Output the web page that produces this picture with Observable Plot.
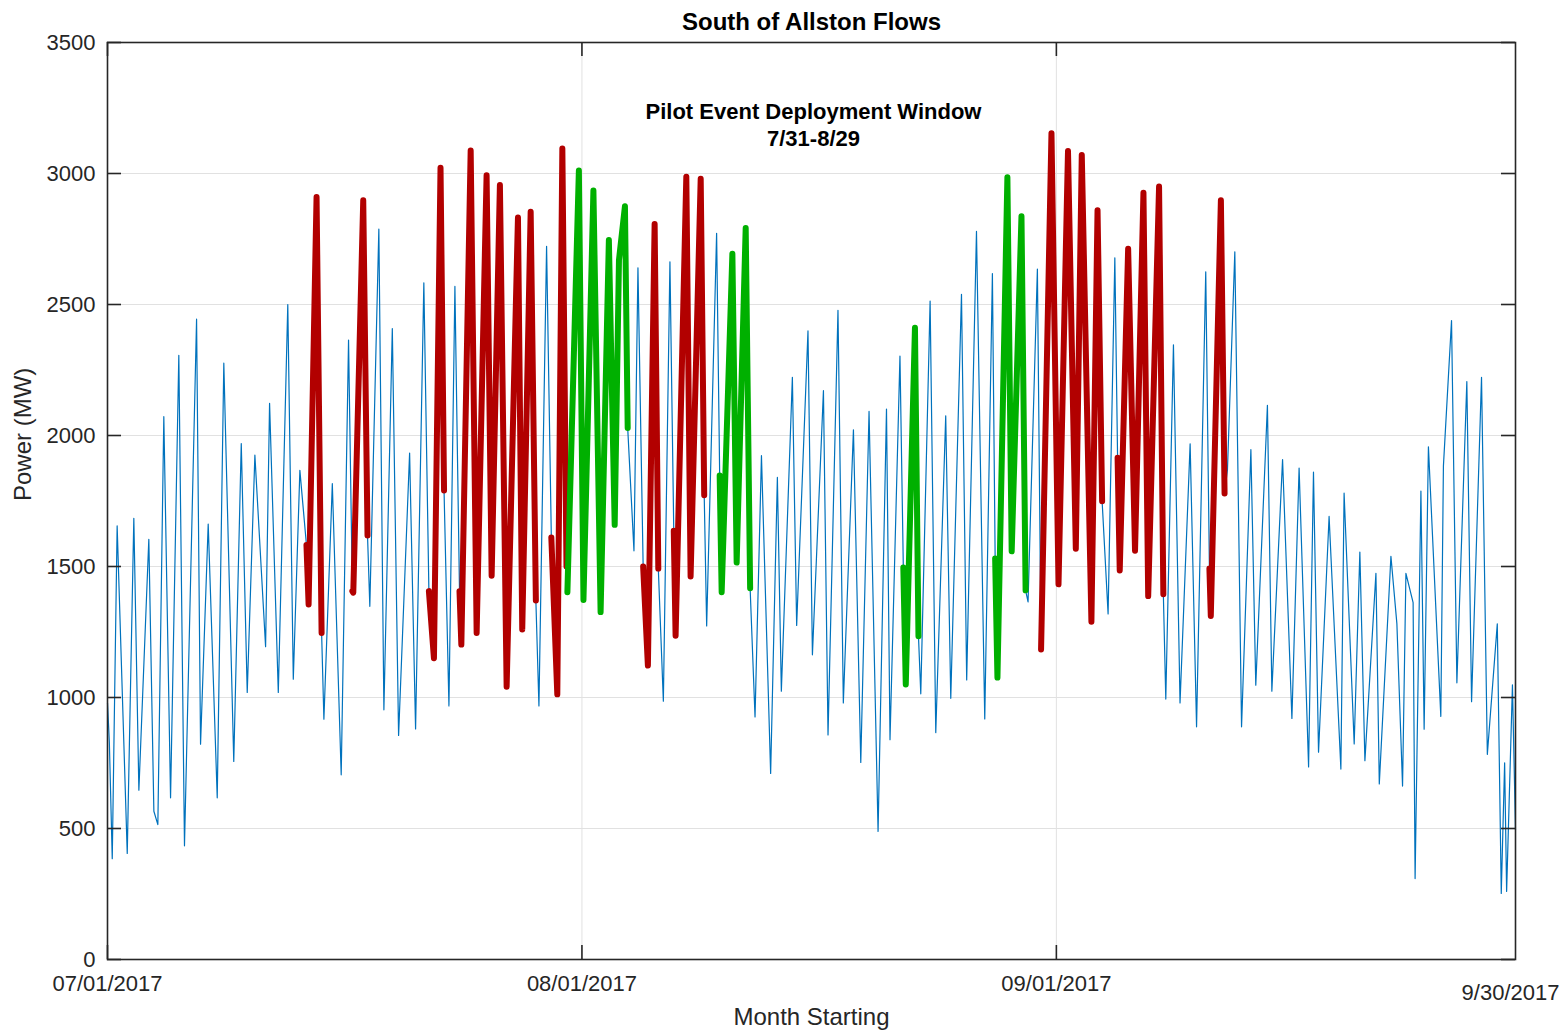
<!DOCTYPE html>
<html>
<head>
<meta charset="utf-8">
<script src="https://cdn.jsdelivr.net/npm/d3@7"></script>
<script src="https://cdn.jsdelivr.net/npm/@observablehq/plot@0.6"></script>
<style>
  body { margin: 0; background: #ffffff; }
  #chart svg { display: block; }
</style>
</head>
<body>
<div id="chart"></div>
<script>
// ---- Data (turning points of the hourly flow) ----
// time in days since 07/01/2017 00:00
const dayOffset = [
  0.00, 0.12, 0.31, 0.63,
  1.29, 1.72,
  2.05, 2.70,
  3.03, 3.29, 3.68,
  4.12, 4.66,
  5.03, 5.82,
  6.08, 6.58,
  7.17, 7.60,
  8.25, 8.74,
  9.13, 9.63,
  10.33, 10.59,
  11.16, 11.78,
  12.14, 12.57,
  13.00, 13.14, 13.66, 13.99,
  14.14, 14.69,
  15.27, 15.75,
  16.00, 16.06, 16.71, 16.99,
  17.14, 17.73,
  18.06, 18.61,
  19.02, 19.74,
  20.13, 20.67,
  21.00, 21.33, 21.76, 21.99,
  22.31, 22.70,
  23.00, 23.12, 23.73, 24.12, 24.77, 25.10, 25.64, 26.08, 26.82, 27.10, 27.65, 27.99,
  28.19, 28.69,
  29.00, 29.39, 29.72, 29.99,
  30.05, 30.80, 31.10, 31.75, 32.22, 32.76, 33.14, 33.42, 33.81, 33.99,
  34.40, 34.66,
  35.00, 35.31, 35.75, 35.99,
  36.32, 36.75,
  37.00, 37.12, 37.82, 38.10, 38.76, 38.99,
  39.15, 39.80,
  40.00, 40.13, 40.83, 41.11, 41.70, 41.99,
  42.31, 42.73, 43.33, 43.77, 44.03, 44.75, 45.03, 45.77, 46.06, 46.78,
  47.08, 47.73, 48.08, 48.74, 49.22, 49.76, 50.35, 50.90, 51.13, 51.78,
  52.00, 52.16, 52.76, 52.99,
  53.14, 53.75, 54.12, 54.77, 55.10, 55.80, 56.14, 56.78, 57.32, 57.82,
  58.00, 58.15, 58.80, 59.08, 59.72, 59.99,
  60.15, 60.76,
  61.00, 61.68, 62.14, 62.76, 63.27, 63.66, 64.29, 64.69, 64.99,
  65.38, 65.82,
  66.00, 66.14, 66.69, 67.14, 67.69, 68.00, 68.71, 68.99,
  69.15, 69.65, 70.08, 70.74, 71.16, 71.76,
  72.00, 72.09, 72.75, 72.99,
  73.18, 73.66, 74.10, 74.71, 75.03, 75.79, 76.08, 76.78, 77.39, 77.86,
  78.48, 78.80, 79.13, 79.82, 80.59, 80.80, 81.46, 81.83, 82.16, 82.88,
  83.10, 83.86, 84.25, 84.62, 84.84, 85.31, 85.44, 85.82, 86.03, 86.31,
  87.12, 87.29, 87.82, 88.17, 88.82, 89.13, 89.78, 90.16, 90.81, 91.07,
  91.29, 91.42, 91.80, 92.00
];
const powerMW = [
  980, 830, 385, 1655,
  405, 1684,
  646, 1604,
  566, 515, 2072,
  617, 2306,
  434, 2444,
  822, 1662,
  617, 2276,
  756, 1969,
  1019, 1925,
  1194, 2123,
  1019, 2500,
  1070, 1867,
  1582, 1355, 2910, 1246,
  917, 1816,
  705, 2364,
  1406, 1400, 2898, 1618,
  1348, 2788,
  953, 2408,
  855, 1933,
  880, 2583,
  1406, 1150, 3022, 1790,
  968, 2569,
  1406, 1202, 3088, 1246, 2993, 1465, 2956, 1041, 2832, 1260, 2854, 1370,
  968, 2722,
  1611, 1012, 3095, 1500,
  1402, 3011, 1372, 2935, 1326, 2746, 1659, 2670, 2875, 2029,
  1560, 2640,
  1500, 1122, 2807, 1492,
  986, 2663,
  1636, 1236, 2988, 1462, 2980, 1772,
  1273, 2772,
  1847, 1402, 2694, 1515, 2792, 1417,
  926, 1923, 710, 1840, 1024, 2222, 1275, 2399, 1163, 2171,
  857, 2478, 979, 2022, 752, 2092, 489, 2101, 839, 2303,
  1496, 1050, 2411, 1234,
  1014, 2513, 866, 2075, 997, 2539, 1067, 2779, 918, 2618,
  1531, 1076, 2986, 1558, 2837, 1409,
  1365, 2635,
  1183, 3154, 1432, 3086, 1568, 3071, 1289, 2860, 1749,
  1319, 2678,
  1915, 1485, 2713, 1560, 2927, 1387, 2950, 1394,
  994, 2346, 979, 1968, 888, 2625,
  1492, 1311, 2898, 1779,
  1870, 2701, 888, 1946, 1047, 2115, 1024, 1908, 920, 1876,
  735, 1860, 791, 1691, 727, 1780, 823, 1555, 759, 1474,
  670, 1539, 1281, 662, 1474, 1362, 309, 1788, 879, 1957,
  928, 1884, 2439, 1056, 2206, 984, 2222, 783, 1281, 252,
  751, 260, 1048, 494
];
// highlighted days
const redDays = [
  "2017-07-14", "2017-07-17", "2017-07-22", "2017-07-24", "2017-07-25", "2017-07-26",
  "2017-07-27", "2017-07-28", "2017-07-30", "2017-08-05", "2017-08-07", "2017-08-08",
  "2017-08-31", "2017-09-01", "2017-09-02", "2017-09-03", "2017-09-05", "2017-09-06",
  "2017-09-07", "2017-09-11"
];
const greenDays = [
  "2017-07-31", "2017-08-01", "2017-08-02", "2017-08-03", "2017-08-10", "2017-08-11",
  "2017-08-22", "2017-08-28", "2017-08-29"
];
const xTickDates = ["2017-07-01", "2017-08-01", "2017-09-01"];
const xTickLabels = ["07/01/2017", "08/01/2017", "09/01/2017"];
const xDomain = ["2017-07-01", "2017-10-01"];
const endLabel = "9/30/2017";
const yTicks = [0, 500, 1000, 1500, 2000, 2500, 3000, 3500];
const titleText = "South of Allston Flows";
const noteLines = ["Pilot Event Deployment Window", "7/31-8/29"];
const xLabelText = "Month Starting";
const yLabelText = "Power (MW)";

// ---- Build table ----
const t0 = Date.UTC(2017, 6, 1);
const fmtDay = d3.utcFormat("%Y-%m-%d");
const redSet = new Set(redDays), greenSet = new Set(greenDays);
const rows = [];
let seg = -1, prevCat = "normal", prevDay = -10;
dayOffset.forEach((d, i) => {
  const di = Math.floor(d + 1e-9);
  const key = fmtDay(new Date(t0 + di * 864e5));
  const cat = redSet.has(key) ? "red" : greenSet.has(key) ? "green" : "normal";
  if (cat !== "normal") {
    if (!(cat === prevCat && (di === prevDay || di === prevDay + 1))) seg++;
  }
  rows.push({date: new Date(t0 + d * 864e5), mw: powerMW[i], cat, seg: cat === "normal" ? null : seg});
  prevCat = cat; prevDay = di;
});
const redRows = rows.filter(r => r.cat === "red");
const greenRows = rows.filter(r => r.cat === "green");
const xTicks = xTickDates.map(s => new Date(s + "T00:00:00Z"));
const xEnd = new Date(xDomain[1] + "T00:00:00Z");

// ---- Layout ----
const W = 1562, H = 1030;
const mL = 107, mR = 47, mT = 42, mB = 71;
const plotW = W - mL - mR, plotH = H - mT - mB;
const tickLen = 14;
const ink = "#262626";
const gridColor = "#e1e1e1";
const font = "'Liberation Sans', Arial, Helvetica, sans-serif";

const chart = Plot.plot({
  width: W, height: H,
  marginLeft: mL, marginRight: mR, marginTop: mT, marginBottom: mB,
  style: {fontFamily: font, color: ink, background: "#ffffff", overflow: "visible"},
  x: {type: "utc", domain: xDomain.map(s => new Date(s + "T00:00:00Z"))},
  y: {domain: [0, 3500]},
  marks: [
    Plot.gridY(yTicks, {stroke: gridColor, strokeOpacity: 1, strokeWidth: 1}),
    Plot.gridX(xTicks, {stroke: gridColor, strokeOpacity: 1, strokeWidth: 1}),
    Plot.line(rows, {x: "date", y: "mw", stroke: "#0072BD", strokeWidth: 1.2}),
    Plot.line(redRows, {x: "date", y: "mw", z: "seg", stroke: "#B20000", strokeWidth: 6,
      strokeLinejoin: "round", strokeLinecap: "round"}),
    Plot.line(greenRows, {x: "date", y: "mw", z: "seg", stroke: "#00B000", strokeWidth: 6,
      strokeLinejoin: "round", strokeLinecap: "round"}),
    Plot.frame({stroke: ink, strokeWidth: 1.6}),
    // inward tick marks on all four sides
    Plot.ruleY(yTicks, {stroke: ink, strokeWidth: 1.6, insetRight: plotW - tickLen}),
    Plot.ruleY(yTicks, {stroke: ink, strokeWidth: 1.6, insetLeft: plotW - tickLen}),
    Plot.ruleX(xTicks, {stroke: ink, strokeWidth: 1.6, insetTop: plotH - tickLen}),
    Plot.ruleX(xTicks, {stroke: ink, strokeWidth: 1.6, insetBottom: plotH - tickLen}),
    Plot.axisY({ticks: yTicks, tickSize: 0, tickPadding: 12, fontSize: 22, label: null,
      tickFormat: d => String(d)}),
    Plot.axisX({ticks: xTicks, tickSize: 0, tickPadding: 16, fontSize: 22, label: null,
      tickFormat: d => xTickLabels[xTicks.findIndex(t => +t === +d)]}),
    Plot.text([endLabel], {x: () => xEnd, frameAnchor: "bottom", dx: -5, dy: 33,
      fontSize: 22, textAnchor: "middle", lineAnchor: "middle", fill: ink}),
    Plot.text([titleText], {frameAnchor: "top", dy: -20, fontSize: 24, fontWeight: "bold",
      lineAnchor: "middle", fill: "#000"}),
    Plot.text([noteLines[0]], {frameAnchor: "top", dx: 2, dy: 69, fontSize: 22, fontWeight: "bold",
      lineAnchor: "middle", fill: "#000"}),
    Plot.text([noteLines[1]], {frameAnchor: "top", dx: 2, dy: 96, fontSize: 22, fontWeight: "bold",
      lineAnchor: "middle", fill: "#000"}),
    Plot.text([xLabelText], {frameAnchor: "bottom", dy: 58, fontSize: 24, lineAnchor: "middle", fill: ink}),
    Plot.text([yLabelText], {frameAnchor: "left", dx: -84, rotate: -90, fontSize: 24,
      lineAnchor: "middle", fill: ink})
  ]
});
document.getElementById("chart").appendChild(chart);
</script>
</body>
</html>
